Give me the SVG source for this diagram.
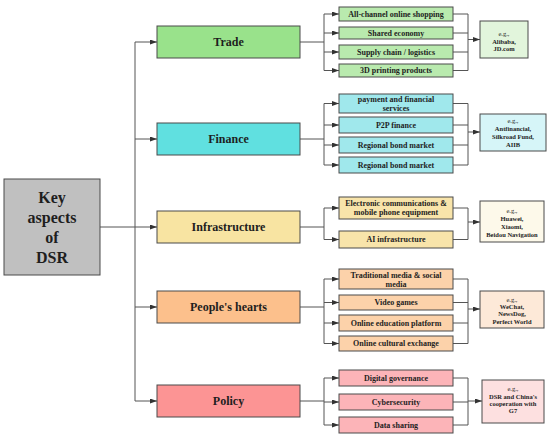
<svg xmlns="http://www.w3.org/2000/svg" width="550" height="436" viewBox="0 0 550 436">
<style>
text{font-family:"Liberation Serif","Times New Roman",serif;font-weight:bold;fill:#1e1e1e;text-anchor:middle}
.k{font-size:16px}
.m{font-size:12px}
.s{font-size:8px}
.r{font-size:6.5px}
.eg{font-weight:normal}
.n{stroke:#4a4a4a;stroke-width:1}
.c line{stroke:#555;stroke-width:1;fill:none}
.a{marker-end:url(#ah)}
</style>
<defs>
<marker id="ah" markerUnits="userSpaceOnUse" markerWidth="7" markerHeight="6" refX="7" refY="2.5" orient="auto">
<path d="M0,0 L7,2.5 L0,5 z" fill="#333"/>
</marker>
</defs>
<rect width="550" height="436" fill="#ffffff"/>

<g class="c" id="connectors">
<line x1="100" y1="227" x2="157" y2="227" class="a"/>
<line x1="135" y1="42" x2="135" y2="401"/>
<line x1="135" y1="42" x2="157" y2="42" class="a"/>
<line x1="135" y1="139" x2="157" y2="139" class="a"/>
<line x1="135" y1="307" x2="157" y2="307" class="a"/>
<line x1="135" y1="401" x2="157" y2="401" class="a"/>
<line x1="300" y1="42" x2="324" y2="42"/>
<line x1="324" y1="14" x2="324" y2="70.5"/>
<line x1="324" y1="14" x2="339" y2="14" class="a"/>
<line x1="324" y1="33" x2="339" y2="33" class="a"/>
<line x1="324" y1="52" x2="339" y2="52" class="a"/>
<line x1="324" y1="70.5" x2="339" y2="70.5" class="a"/>
<line x1="453" y1="14" x2="468" y2="14"/>
<line x1="453" y1="33" x2="468" y2="33"/>
<line x1="453" y1="52" x2="468" y2="52"/>
<line x1="453" y1="70.5" x2="468" y2="70.5"/>
<line x1="468" y1="14" x2="468" y2="70.5"/>
<line x1="468" y1="39.5" x2="480" y2="39.5" class="a"/>
<line x1="300" y1="139" x2="324" y2="139"/>
<line x1="324" y1="103.5" x2="324" y2="165"/>
<line x1="324" y1="103.5" x2="339" y2="103.5" class="a"/>
<line x1="324" y1="125" x2="339" y2="125" class="a"/>
<line x1="324" y1="145" x2="339" y2="145" class="a"/>
<line x1="324" y1="165" x2="339" y2="165" class="a"/>
<line x1="453" y1="103.5" x2="468" y2="103.5"/>
<line x1="453" y1="125" x2="468" y2="125"/>
<line x1="453" y1="145" x2="468" y2="145"/>
<line x1="453" y1="165" x2="468" y2="165"/>
<line x1="468" y1="103.5" x2="468" y2="165"/>
<line x1="468" y1="132" x2="480" y2="132" class="a"/>
<line x1="300" y1="227" x2="324" y2="227"/>
<line x1="324" y1="208" x2="324" y2="239.5"/>
<line x1="324" y1="208" x2="339" y2="208" class="a"/>
<line x1="324" y1="239.5" x2="339" y2="239.5" class="a"/>
<line x1="453" y1="208" x2="468" y2="208"/>
<line x1="453" y1="239.5" x2="468" y2="239.5"/>
<line x1="468" y1="208" x2="468" y2="239.5"/>
<line x1="468" y1="222" x2="480" y2="222" class="a"/>
<line x1="300" y1="307" x2="324" y2="307"/>
<line x1="324" y1="279" x2="324" y2="343.5"/>
<line x1="324" y1="279" x2="339" y2="279" class="a"/>
<line x1="324" y1="302.5" x2="339" y2="302.5" class="a"/>
<line x1="324" y1="323" x2="339" y2="323" class="a"/>
<line x1="324" y1="343.5" x2="339" y2="343.5" class="a"/>
<line x1="453" y1="279" x2="468" y2="279"/>
<line x1="453" y1="302.5" x2="468" y2="302.5"/>
<line x1="453" y1="323" x2="468" y2="323"/>
<line x1="453" y1="343.5" x2="468" y2="343.5"/>
<line x1="468" y1="279" x2="468" y2="343.5"/>
<line x1="468" y1="309" x2="480" y2="309" class="a"/>
<line x1="300" y1="401" x2="324" y2="401"/>
<line x1="324" y1="378" x2="324" y2="425"/>
<line x1="324" y1="378" x2="339" y2="378" class="a"/>
<line x1="324" y1="402" x2="339" y2="402" class="a"/>
<line x1="324" y1="425" x2="339" y2="425" class="a"/>
<line x1="453" y1="378" x2="468" y2="378"/>
<line x1="453" y1="402" x2="468" y2="402"/>
<line x1="453" y1="425" x2="468" y2="425"/>
<line x1="468" y1="378" x2="468" y2="425"/>
<line x1="468" y1="401" x2="482" y2="401" class="a"/>
</g>

<g id="key">
<rect class="n" x="4" y="179" width="96" height="96" fill="#c0c0c0"/>
<text class="k" x="52" y="203">Key</text>
<text class="k" x="52" y="223">aspects</text>
<text class="k" x="52" y="243">of</text>
<text class="k" x="52" y="263">DSR</text>
</g>

<g id="trade"><rect class="n" x="157" y="26" width="143" height="32" fill="#99e28b"/><text class="m" x="228.5" y="46">Trade</text></g>
<g id="finance"><rect class="n" x="157" y="123" width="143" height="32" fill="#60e0e0"/><text class="m" x="228.5" y="143">Finance</text></g>
<g id="infrastructure"><rect class="n" x="157" y="211" width="143" height="32" fill="#f8e4a2"/><text class="m" x="228.5" y="231">Infrastructure</text></g>
<g id="people"><rect class="n" x="157" y="291" width="143" height="32" fill="#fcc08c"/><text class="m" x="228.5" y="311">People's hearts</text></g>
<g id="policy"><rect class="n" x="157" y="385" width="143" height="32" fill="#fc9494"/><text class="m" x="228.5" y="405">Policy</text></g>

<g id="t1"><rect class="n" x="339" y="7" width="114" height="14" fill="#b9eaae"/><text class="s" x="396" y="16.8">All-channel online shopping</text></g>
<g id="t2"><rect class="n" x="339" y="27" width="114" height="12" fill="#b9eaae"/><text class="s" x="396" y="35.8">Shared economy</text></g>
<g id="t3"><rect class="n" x="339" y="45" width="114" height="14" fill="#b9eaae"/><text class="s" x="396" y="54.8">Supply chain / logistics</text></g>
<g id="t4"><rect class="n" x="339" y="64" width="114" height="13" fill="#b9eaae"/><text class="s" x="396" y="73.3">3D printing products</text></g>
<g id="tr"><rect class="n" x="480" y="21" width="48" height="37" fill="#e2f5dc"/>
<text class="r eg" x="504" y="35.5">e.g.,</text><text class="r" x="504" y="43.5">Alibaba,</text><text class="r" x="504" y="51">JD.com</text></g>

<g id="f1"><rect class="n" x="339" y="94" width="114" height="19" fill="#a0e8ec"/><text class="s" x="396" y="102">payment and financial</text><text class="s" x="396" y="111.3">services</text></g>
<g id="f2"><rect class="n" x="339" y="117" width="114" height="16" fill="#a0e8ec"/><text class="s" x="396" y="127.8">P2P finance</text></g>
<g id="f3"><rect class="n" x="339" y="137" width="114" height="16" fill="#a0e8ec"/><text class="s" x="396" y="147.8">Regional bond market</text></g>
<g id="f4"><rect class="n" x="339" y="157" width="114" height="16" fill="#a0e8ec"/><text class="s" x="396" y="167.8">Regional bond market</text></g>
<g id="fr"><rect class="n" x="480" y="114" width="66" height="37" fill="#d6f5f8"/>
<text class="r eg" x="513" y="123.2">e.g.,</text><text class="r" x="513" y="131.2">Antfinancial,</text><text class="r" x="513" y="139.2">Silkroad Fund,</text><text class="r" x="513" y="147.2">AIIB</text></g>

<g id="i1"><rect class="n" x="339" y="197" width="114" height="22" fill="#f8e4aa"/><text class="s" x="396" y="206">Electronic communications &amp;</text><text class="s" x="396" y="215.4">mobile phone equipment</text></g>
<g id="i2"><rect class="n" x="339" y="231" width="114" height="17" fill="#f8e4aa"/><text class="s" x="396" y="242.3">AI infrastructure</text></g>
<g id="ir"><rect class="n" x="480" y="201" width="64" height="41" fill="#fdf9ea"/>
<text class="r eg" x="512" y="213">e.g.,</text><text class="r" x="512" y="220.8">Huawei,</text><text class="r" x="512" y="228.6">Xiaomi,</text><text class="r" x="512" y="237">Beidou Navigation</text></g>

<g id="p1"><rect class="n" x="339" y="269" width="114" height="20" fill="#fcd2aa"/><text class="s" x="396" y="277.5">Traditional media &amp; social</text><text class="s" x="396" y="286.8">media</text></g>
<g id="p2"><rect class="n" x="339" y="295" width="114" height="15" fill="#fcd2aa"/><text class="s" x="396" y="305.3">Video games</text></g>
<g id="p3"><rect class="n" x="339" y="315" width="114" height="16" fill="#fcd2aa"/><text class="s" x="396" y="325.8">Online education platform</text></g>
<g id="p4"><rect class="n" x="339" y="336" width="114" height="15" fill="#fcd2aa"/><text class="s" x="396" y="346.3">Online cultural exchange</text></g>
<g id="pr"><rect class="n" x="480" y="291" width="64" height="37" fill="#fde9d8"/>
<text class="r eg" x="512" y="301.5">e.g.,</text><text class="r" x="512" y="308.5">WeChat,</text><text class="r" x="512" y="316.3">NewsDog,</text><text class="r" x="512" y="324.2">Perfect World</text></g>

<g id="y1"><rect class="n" x="339" y="370" width="114" height="16" fill="#fcb4b8"/><text class="s" x="396" y="380.8">Digital governance</text></g>
<g id="y2"><rect class="n" x="339" y="394" width="114" height="16" fill="#fcb4b8"/><text class="s" x="396" y="404.8">Cybersecurity</text></g>
<g id="y3"><rect class="n" x="339" y="417" width="114" height="16" fill="#fcb4b8"/><text class="s" x="396" y="427.8">Data sharing</text></g>
<g id="yr"><rect class="n" x="482" y="380" width="62" height="43" fill="#fde0e0"/>
<text class="r eg" x="513" y="391">e.g.,</text><text class="r" x="513" y="399">DSR and China's</text><text class="r" x="513" y="405.6">cooperation with</text><text class="r" x="513" y="413">G7</text></g>
</svg>
